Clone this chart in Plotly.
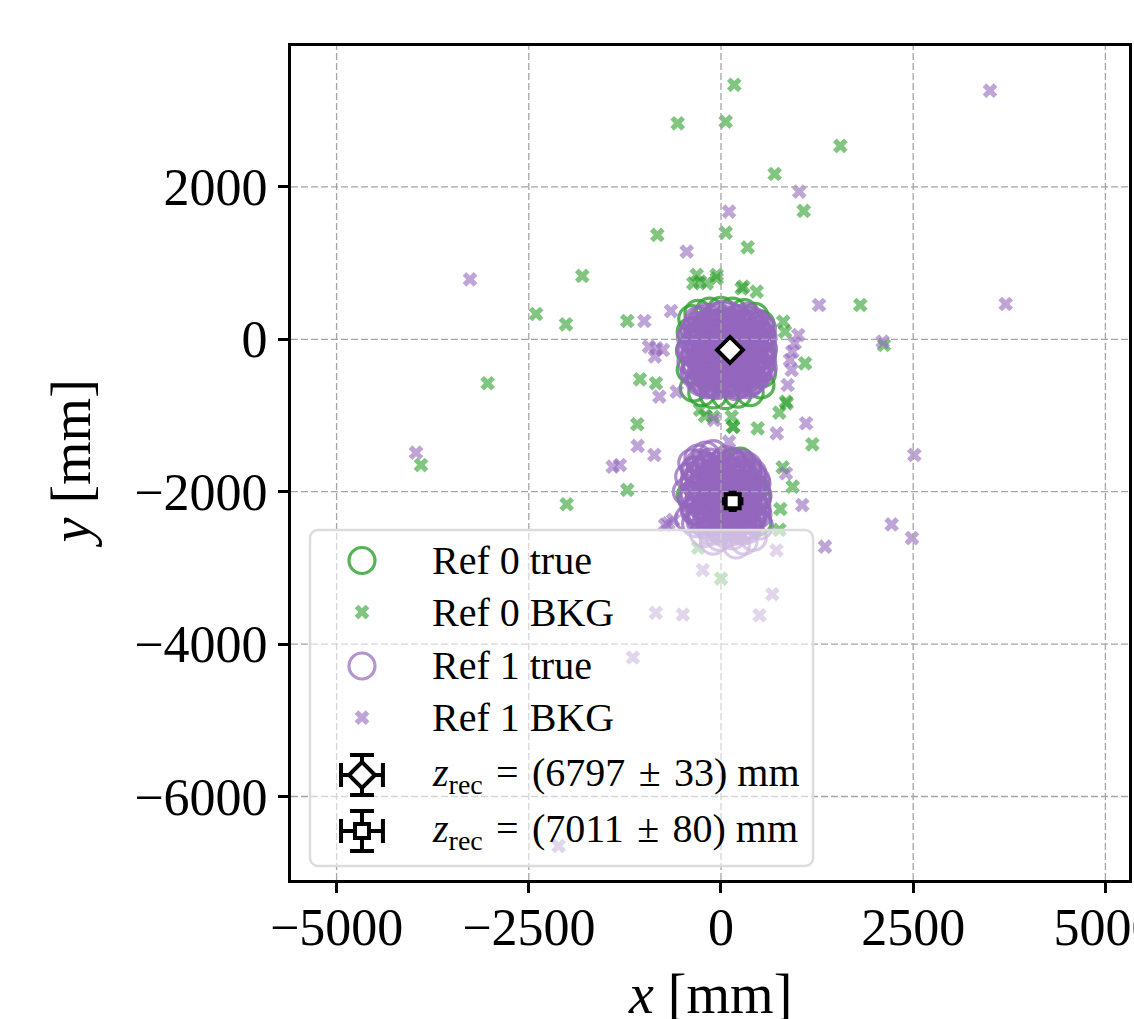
import numpy as np
import plotly.graph_objects as go

# ---- hits of the true tracks on each reference plane (mm) ----
REF0_TRUE_X = [-360, -250, -100, 60, 220, 380, 520, 540, -380, -300, -150, 0, 150, 300,
               440, 520, -400, -410, -400, 530, 540, 0, 100, -200, 200, 300, -100,
               150, 250, 450, 470, 480, -400, 350, 0, 100, -200, 300, -100]
REF0_TRUE_Y = [-640, -700, -730, -740, -720, -700, -600, -450, 270, 340, 370, 380, 370, 350,
               300, 200, 100, -150, -400, 50, -200, 0, -200, -300, 100, -400, 200,
               -1620, -1600, -1950, -2100, -2400, -2050, -2450, -2000, -2300, -2200, -1800, -1750]

REF1_TRUE_X = [-380, -350, -340, -300, -290, -270, -250, -220, -200, -190, -160, -140, -120,
               -100, -90, -60, -40, -20, 0, 10, 30, 50, 60, 80, 100, 110, 130, 150, 160, 180,
               200, 220, 240, 250, 270, 290, 300, 320, 340, 360, 380, 400, 420, 440, 460, 480,
               500, 520, 540, 550, -330, -260, -180, -80, 20, 70, 140, 190, 260, 330, 410, 470,
               -230, -130, -30, 40, 120, 210, 310, 390, -320, -10,
               -245, -92, 58, 201, 352,
               -312, -168, -27, 113, 248, 392, 503,
               -362, -228, -81, 52, 197, 333, 478,
               -398, -262, -122, 18, 151, 298, 431, 547,
               -337, -204, -57, 83, 218, 363, 497,
               -402, -271, -138, 8, 142, 288, 421, 553,
               -333, -186, -53, 94, 227, 372, 508,
               -391, -258, -112, 28, 162, 309, 441, 542,
               -318, -183, -37, 103, 237, 383, 496,
               -353, -207, -73, 68, 213, 347, 472,
               -262, -128, 17, 152, 298, 423,
               -188, -48, 93, 227, 358,
               -168, -22, 133, 278, 418,
               -238, -103, 42, 177, 322, 453,
               -297, -152, -13, 127, 262, 407, 518,
               -328, -192, -47, 88, 228, 362, 502,
               -272, -127, 8, 153, 287, 432, 543,
               -338, -203, -58, 78, 222, 358, 492,
               -267, -122, 13, 157, 292, 437,
               -333, -197, -52, 87, 223, 367, 508,
               -252, -108, 28, 172, 307, 442,
               -278, -142, 3, 138, 282, 408,
               -118, 22, 158, 302,
               -380, -300, -200, -100, -420, -330, -250, -150, -450, -380, -420, -330, -250,
               -300, -200, -100, 0, 60, 150, 250, 350, 420, 480, 450, 400, 350, 500, 420, 300,
               200, 150, 50, -50, -150, -80, 0, 100, 200, 300, 200, 100, 0, -150, -50, 250,
               350, 100, 250, -230, 400, -350, 150, -100, 320, 50, -20, 480, -280, 180, 60,
               -277, -143, 4, 138, 283,
               -347, -212, -68, 73, 207, 352,
               -283, -137, 2, 143, 277, 418,
               -352, -208, -73, 68, 213, 348, 468,
               -278, -142, 3, 137, 283, 412,
               -357, -213, -67, 72, 208, 353, 477,
               -283, -138, -3, 143, 278, 422,
               -328, -207, -72, 73, 207, 352, 468,
               -268, -143, 2, 138, 283, 408,
               -203, -68, 72, 207, 352,
               -128, 3, 142, 277,
               -208, -72, 68, 212, 348,
               -282, -138, 3, 142, 278, 412,
               -348, -212, -68, 72, 208, 352, 458,
               -278, -142, -2, 138, 282, 408,
               -352, -208, -72, 68, 212, 348, 472,
               -282, -138, 2, 142, 278, 418,
               -348, -212, -68, 72, 208, 352, 468,
               -278, -142, -2, 138, 282, 412,
               -272, -138, 3, 142, 278, 402,
               -132, 12, 148, 292]
REF1_TRUE_Y = [-150, 120, -420, 250, -40, -560, -260, 60, 290, -480, -150, 180, -340,
               -20, -600, 300, -230, 100, -440, -80, 230, -310, -560, 40, -180, 310, -420, 160,
               -40, -620, -280, 270, -120, 60, -500, 200, -360, -20, 300, -200, -560, 100, -300,
               -80, 220, -460, 0, -220, 140, -380, -300, 170, -50, -470, 330, -230, -520, 120,
               -210, -450, -150, -350, -380, -590, -120, 0, -320, -60, -100, 250, 40, 220,
               262, 271, 258, 268, 255,
               182, 191, 178, 188, 176, 186, 181,
               103, 111, 98, 108, 101, 96, 107,
               22, 31, 18, 28, 21, 16, 27, 23,
               -52, -61, -48, -58, -51, -56, -57,
               -132, -141, -128, -138, -131, -136, -137, -133,
               -212, -221, -208, -218, -211, -216, -217,
               -292, -301, -288, -298, -291, -296, -297, -293,
               -372, -381, -368, -378, -371, -376, -377,
               -452, -461, -448, -458, -451, -456, -457,
               -532, -541, -528, -538, -531, -536,
               -598, -607, -594, -602, -596,
               224, 218, 227, 221, 216,
               143, 139, 146, 141, 138, 144,
               63, 58, 66, 61, 57, 64, 60,
               -17, -21, -14, -19, -23, -16, -20,
               -97, -101, -94, -99, -103, -96, -98,
               -177, -181, -174, -179, -183, -176, -178,
               -257, -261, -254, -259, -263, -256,
               -337, -341, -334, -339, -343, -336, -338,
               -417, -421, -414, -419, -423, -416,
               -497, -501, -494, -499, -503, -496,
               -568, -572, -566, -571,
               -1620, -1560, -1520, -1500, -1800, -1720, -1650, -1680, -2000, -2100, -2350,
               -2420, -2300, -1950, -1850, -1950, -1700, -1580, -1600, -1650, -1750, -1900,
               -2050, -2200, -2350, -2500, -2450, -2600, -2650, -2700, -2580, -2550, -2480,
               -2400, -2200, -2050, -1850, -1950, -2100, -2300, -2150, -2350, -2100, -1800,
               -1800, -2250, -2450, -2500, -2550, -2000, -2250, -2050, -2650, -1950, -2000,
               -2600, -2300, -2050, -1750, -2300,
               -1622, -1613, -1627, -1618, -1624,
               -1712, -1703, -1717, -1708, -1714, -1706,
               -1802, -1793, -1807, -1798, -1804, -1796,
               -1892, -1883, -1897, -1888, -1894, -1886, -1891,
               -1982, -1973, -1987, -1978, -1984, -1976,
               -2072, -2063, -2077, -2068, -2074, -2066, -2071,
               -2162, -2153, -2167, -2158, -2164, -2156,
               -2252, -2243, -2257, -2248, -2254, -2246, -2251,
               -2342, -2333, -2347, -2338, -2344, -2336,
               -2432, -2423, -2437, -2428, -2434,
               -2522, -2513, -2527, -2518,
               -1667, -1662, -1669, -1663, -1666,
               -1757, -1752, -1759, -1753, -1756, -1751,
               -1847, -1842, -1849, -1843, -1846, -1841, -1848,
               -1937, -1932, -1939, -1933, -1936, -1931,
               -2027, -2022, -2029, -2023, -2026, -2021, -2028,
               -2117, -2112, -2119, -2113, -2116, -2111,
               -2207, -2202, -2209, -2203, -2206, -2201, -2208,
               -2297, -2292, -2299, -2293, -2296, -2291,
               -2387, -2382, -2389, -2383, -2386, -2381,
               -2477, -2472, -2479, -2473]

# ---- background hits ----
REF0_BKG_X = [173, -563, 61, 61, -828, -1804, -2406, -2016, -1219, -3035, -1054, -846, -1089,
              -1219, -2007, -3902, -316, -273, -360, -56, -186, -56, 290, 464, 269, 1552, 698,
              1076, 347, 1812, 2120, 1093, 845, 759, 477, 1188, 802, 932, 772, 160, 139, 810,
              832, 855, -273, -100, -208, 156, -297, 0, 760]
REF0_BKG_Y = [3340, 2835, 2856, 1399, 1369, 831, 332, 197, 240, -577, -525, -577, -1115,
              -1977, -2165, -1650, 844, 756, 735, 844, 735, 800, 690, 625, 669, 2537, 2169,
              1684, 1207, 450, -75, -315, -819, -963, -1168, -1378, -1680, -1934, -2227, -1147,
              -1016, 231, 100, -840, -925, -1016, -1006, -1150, -2735, -3140, -2500]

REF1_BKG_X = [-3265, -446, 104, -998, -650, -840, -937, -755, -860, -802, -576, -1084, -867,
              -1409, -1314, -3967, 104, -91, 3499, 1018, 1275, 3703, 2103, 1005, 959, 928, 897,
              919, 867, 1106, 724, 2514, 845, 1057, 2220, 2484, -847, -496, 502, 668, -1146,
              -2112, -237, 722, 1353, -728, -686, -621]
REF1_BKG_Y = [787, 1150, 1675, 240, 371, -118, -97, -140, -228, -753, -688, -1400, -1518,
              -1672, -1650, -1488, -1344, -1059, 3262, 1937, 450, 463, -31, 56, -52, -163, -272,
              -403, -600, -1102, -1234, -1518, -1759, -2175, -2430, -2608, -3590, -3613, -3622,
              -3346, -4176, -6650, -3028, -2770, -2722, -2436, -2415, -2371]

# ---- reconstructed positions ----
REC_X = [117, 152]
REC_Y = [-140, -2126]
REC_XERR = [60, 120]
REC_YERR = [60, 120]
REC_Z = [6797, 7011]
REC_ZERR = [33, 80]

X_TICKS = [-5000, -2500, 0, 2500, 5000]
Y_TICKS = [-6000, -4000, -2000, 0, 2000]
X_RANGE = [-5593, 5307]
Y_RANGE = [-7096, 3849]

GREEN = (44, 160, 44)
PURPLE = (148, 103, 189)
FONT = "Liberation Serif"


def rgba(c, a):
    return f"rgba({c[0]},{c[1]},{c[2]},{a})"


def tick_text(v):
    return str(v).replace("-", "\u2212")


def true_trace(x, y, color, alpha, **kw):
    return go.Scatter(x=x, y=y, mode="markers", hoverinfo="skip", showlegend=False,
                      marker=dict(symbol="circle-open", size=26, color=rgba(color, alpha),
                                  line=dict(width=3.2)), **kw)


def bkg_trace(x, y, color, **kw):
    return go.Scatter(x=x, y=y, mode="markers", hoverinfo="skip", showlegend=False,
                      marker=dict(symbol="x", size=13, color=rgba(color, 0.6), line=dict(width=0)),
                      **kw)


def rec_trace(x, y, xerr, yerr, symbol, size, cap, thick, **kw):
    return go.Scatter(
        x=x, y=y, mode="markers", hoverinfo="skip", showlegend=False,
        error_x=dict(type="data", array=xerr, color="black", thickness=thick, width=cap),
        error_y=dict(type="data", array=yerr, color="black", thickness=thick, width=cap),
        marker=dict(symbol=symbol, size=size, color="white", line=dict(color="black", width=4)),
        **kw)


fig = go.Figure()
fig.add_trace(true_trace(REF0_TRUE_X, REF0_TRUE_Y, GREEN, 0.8))
fig.add_trace(bkg_trace(REF0_BKG_X, REF0_BKG_Y, GREEN))
fig.add_trace(true_trace(REF1_TRUE_X, REF1_TRUE_Y, PURPLE, 0.75))
fig.add_trace(bkg_trace(REF1_BKG_X, REF1_BKG_Y, PURPLE))

# dashed grid drawn over the hit markers
gx, gy = [], []
for t in X_TICKS:
    gx += [t, t, None]
    gy += [Y_RANGE[0], Y_RANGE[1], None]
for t in Y_TICKS:
    gx += [X_RANGE[0], X_RANGE[1], None]
    gy += [t, t, None]
fig.add_trace(go.Scatter(x=gx, y=gy, mode="lines", hoverinfo="skip", showlegend=False,
                         line=dict(color="rgb(165,165,165)", width=1.3, dash="7px,3px")))

symbols = ["diamond", "square"]
sizes = [20, 14]
for i in range(len(REC_X)):
    fig.add_trace(rec_trace([REC_X[i]], [REC_Y[i]], [REC_XERR[i]], [REC_YERR[i]],
                            symbols[i], sizes[i], 4, 3))

# ---- legend panel on an overlay in plot-area fractions ----
LX0, LX1, LY0, LY1 = 0.0227, 0.623, 0.0168, 0.4197
RX, RY = 0.0095, 0.0096
bx, by = [], []
for cx, cy, a0 in [(LX1 - RX, LY1 - RY, 0), (LX0 + RX, LY1 - RY, 90),
                   (LX0 + RX, LY0 + RY, 180), (LX1 - RX, LY0 + RY, 270)]:
    for t in np.linspace(np.radians(a0), np.radians(a0 + 90), 8):
        bx.append(cx + RX * np.cos(t))
        by.append(cy + RY * np.sin(t))
bx.append(bx[0])
by.append(by[0])
fig.add_trace(go.Scatter(x=bx, y=by, xaxis="x2", yaxis="y2", mode="lines", fill="toself",
                         fillcolor="rgba(255,255,255,0.55)", hoverinfo="skip", showlegend=False,
                         line=dict(color="rgb(220,220,220)", width=2.5)))

GX = 0.0847
ROWS = [0.3831, 0.3213, 0.2566, 0.1947, 0.1259, 0.0588]
fig.add_trace(true_trace([GX], [ROWS[0]], GREEN, 0.8, xaxis="x2", yaxis="y2"))
fig.add_trace(bkg_trace([GX], [ROWS[1]], GREEN, xaxis="x2", yaxis="y2"))
fig.add_trace(true_trace([GX], [ROWS[2]], PURPLE, 0.7, xaxis="x2", yaxis="y2"))
fig.add_trace(bkg_trace([GX], [ROWS[3]], PURPLE, xaxis="x2", yaxis="y2"))
for i in range(len(REC_X)):
    fig.add_trace(rec_trace([GX], [ROWS[4 + i]], [0.025], [0.024], symbols[i], sizes[i], 12, 4,
                            xaxis="x2", yaxis="y2"))

SP = "\u2004"
labels = ["Ref 0 true", "Ref 0 BKG", "Ref 1 true", "Ref 1 BKG"]
labels += [f"<i>z</i><sub>rec</sub>{SP}={SP}({z}{SP}\u00b1{SP}{e}) mm" for z, e in zip(REC_Z, REC_ZERR)]
annotations = [dict(text=t, x=0.1659, y=r, xref="paper", yref="paper", xanchor="left",
                    yanchor="middle", showarrow=False, font=dict(family=FONT, size=40, color="black"))
               for t, r in zip(labels, ROWS)]
annotations.append(dict(text="<i>x</i> [mm]", x=0.5, y=-0.137, xref="paper", yref="paper",
                        xanchor="center", yanchor="middle", showarrow=False,
                        font=dict(family=FONT, size=56, color="black")))
annotations.append(dict(text="<i>y</i> [mm]", x=-0.262, y=0.5, xref="paper", yref="paper",
                        xanchor="center", yanchor="middle", showarrow=False, textangle=-90,
                        font=dict(family=FONT, size=56, color="black")))

axis_common = dict(showgrid=False, zeroline=False, showline=True, mirror=True, linecolor="black",
                   linewidth=3, ticks="outside", ticklen=10, tickwidth=2.5, tickcolor="black",
                   ticklabeloverflow="allow", automargin=False,
                   tickfont=dict(family=FONT, size=52, color="black"))

fig.update_layout(
    width=1134, height=1019,
    margin=dict(l=291, r=5, t=46, b=139),
    paper_bgcolor="white", plot_bgcolor="white",
    showlegend=False,
    xaxis=dict(range=X_RANGE, tickvals=X_TICKS, ticktext=[tick_text(v) for v in X_TICKS],
               ticklabelstandoff=-10, **axis_common),
    yaxis=dict(range=Y_RANGE, tickvals=Y_TICKS, ticktext=[tick_text(v) for v in Y_TICKS],
               **axis_common),
    xaxis2=dict(overlaying="x", range=[0, 1], visible=False),
    yaxis2=dict(overlaying="y", range=[0, 1], visible=False),
    annotations=annotations,
)

fig.write_html("out.html")
